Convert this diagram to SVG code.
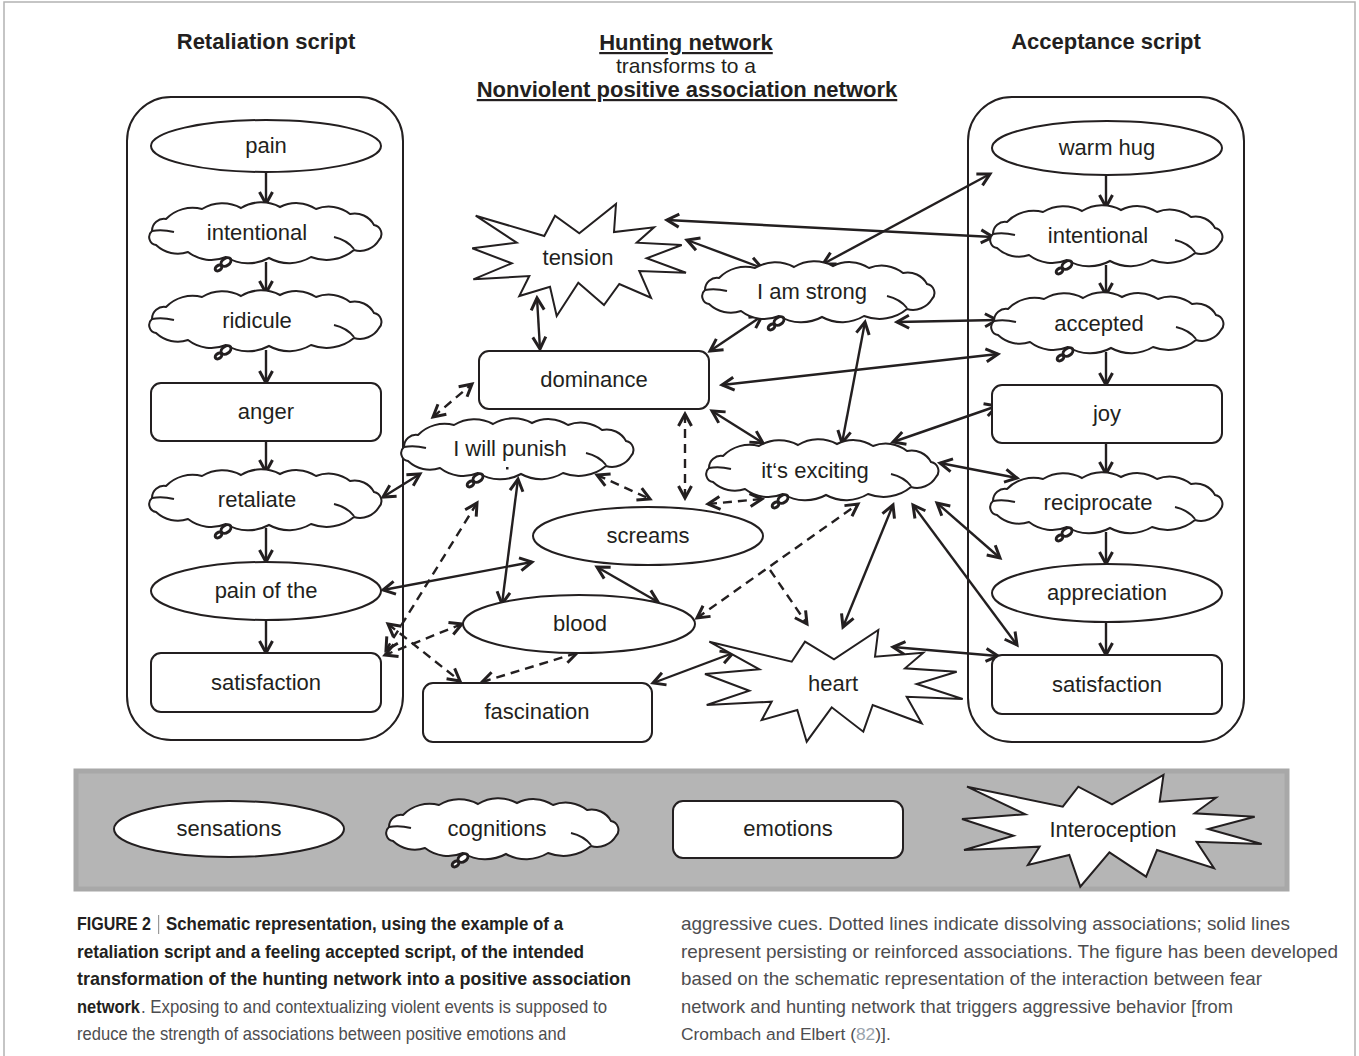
<svg xmlns="http://www.w3.org/2000/svg" width="1359" height="1056" viewBox="0 0 1359 1056">
<style>
.sh{fill:#fff;stroke:#231f20;stroke-width:2}
.cont{fill:none;stroke:#231f20;stroke-width:2}
.lb{font-family:"Liberation Sans",Arial,sans-serif;font-size:22px;fill:#231f20;text-anchor:middle}
.tt{font-family:"Liberation Sans",Arial,sans-serif;font-size:22px;font-weight:bold;fill:#231f20;text-anchor:middle}
.cn{fill:none;stroke:#231f20;stroke-width:2.4;marker-end:url(#ah)}
.db{marker-start:url(#ah)}
.ds{stroke-dasharray:9 6}
.cap{font-family:"Liberation Sans",Arial,sans-serif;font-size:18.5px;fill:#4d4d4f}
.b{font-weight:bold;fill:#231f20}
.bub{fill:#fff;stroke:#231f20;stroke-width:3}
</style>
<defs>
<marker id="ah" viewBox="-16 -9 19 18" refX="0" refY="0" markerWidth="19" markerHeight="18" markerUnits="userSpaceOnUse" orient="auto-start-reverse">
<path d="M-12,-6.5 L0,0 L-12,6.5" fill="none" stroke="#231f20" stroke-width="3"/>
</marker>
<g id="cloud">
<path class="sh" d="M-100,-14 A37,37 0 0 1 -64,-24 A39,39 0 0 1 -25,-25 A39,39 0 0 1 14,-26 A36,36 0 0 1 50,-24 A34,34 0 0 1 84,-19 A22,22 0 0 1 108,-8 A9,9 0 0 1 113,7 A22,22 0 0 1 88,17 A43,43 0 0 1 45,24 A42,42 0 0 1 3,25 A43,43 0 0 1 -40,24 A38,38 0 0 1 -78,19 A32,32 0 0 1 -110,12 A8,8 0 0 1 -114,-2 A12,12 0 0 1 -100,-14 Z"/>
<path d="M-114,-2 Q-104,-4 -92,-1 M88,16 Q81,7 68,4" fill="none" stroke="#231f20" stroke-width="2"/>
<ellipse class="bub" cx="-40" cy="29" rx="5.5" ry="3.6" transform="rotate(-35 -40 29)"/>
<ellipse class="bub" cx="-47.5" cy="35" rx="3.6" ry="2.5" transform="rotate(-35 -47.5 35)"/>
</g>
</defs>
<rect width="1359" height="1056" fill="#fff"/>
<path d="M4,1056 V2 H1355 V1056" fill="none" stroke="#b3b3b3" stroke-width="1.5"/>

<g id="titles">
<text class="tt" x="266" y="49">Retaliation script</text>
<text class="tt" x="1106" y="49">Acceptance script</text>
<text class="tt" x="686" y="50" text-decoration="underline">Hunting network</text>
<text class="lb" x="686" y="73" style="font-size:21px">transforms to a</text>
<text class="tt" x="687" y="97" text-decoration="underline">Nonviolent positive association network</text>
</g>

<g id="containers">
<rect class="cont" x="127" y="97" width="276" height="643" rx="44"/>
<rect class="cont" x="968" y="97" width="276" height="645" rx="44"/>
</g>

<g id="legend-band"><rect x="76" y="771" width="1211" height="118" fill="#b5b5b5" stroke="#a8a8a8" stroke-width="5"/></g>

<g id="connectors">
<path class="cn" d="M266,172 V204"/>
<path class="cn" d="M266,262 V293"/>
<path class="cn" d="M266,350 V383"/>
<path class="cn" d="M266,441 V472"/>
<path class="cn" d="M266,528 V562"/>
<path class="cn" d="M266,620 V653"/>
<path class="cn" d="M1106,175 V207"/>
<path class="cn" d="M1106,265 V295"/>
<path class="cn" d="M1106,352 V385"/>
<path class="cn" d="M1106,443 V474"/>
<path class="cn" d="M1106,532 V564"/>
<path class="cn" d="M1106,622 V655"/>
<path class="cn db" d="M667,220 L993,237"/>
<path class="cn db" d="M687,240 L762,268"/>
<path class="cn db" d="M823,264 L990,174"/>
<path class="cn db" d="M537,298 L540,349"/>
<path class="cn db" d="M710,351 L762,316"/>
<path class="cn db" d="M897,322 L997,320"/>
<path class="cn db" d="M722,385 L998,354"/>
<path class="cn db" d="M865,322 L842,443"/>
<path class="cn db" d="M712,411 L763,443"/>
<path class="cn db" d="M893,442 L997,406"/>
<path class="cn db" d="M940,463 L1017,478"/>
<path class="cn db" d="M937,503 L1000,558"/>
<path class="cn db" d="M913,505 L1017,645"/>
<path class="cn db" d="M893,505 L843,627"/>
<path class="cn db" d="M893,647 L998,656"/>
<path class="cn db" d="M653,683 L733,653"/>
<path class="cn db" d="M597,567 L658,602"/>
<path class="cn db" d="M518,479 L502,604"/>
<path class="cn db" d="M383,590 L532,562"/>
<path class="cn db" d="M383,497 L420,474"/>
<path class="cn db ds" d="M433,417 L472,384"/>
<path class="cn db ds" d="M597,475 L650,499"/>
<path class="cn db ds" d="M685,414 L685,498"/>
<path class="cn db ds" d="M708,504 L762,499"/>
<path class="cn db ds" d="M477,503 L386,650"/>
<path class="cn db ds" d="M462,624 L385,655"/>
<path class="cn db ds" d="M388,624 L460,681"/>
<path class="cn db ds" d="M482,682 L577,653"/>
<path class="cn db ds" d="M697,618 L858,504"/>
<path class="cn ds" d="M770,570 L807,624"/>
</g>

<g id="n-pain"><ellipse class="sh" cx="266" cy="146" rx="115" ry="26"/><text class="lb" x="266" y="153">pain</text></g>
<g id="n-intentional-l"><use href="#cloud" x="266" y="233"/><text class="lb" x="257" y="240">intentional</text></g>
<g id="n-ridicule"><use href="#cloud" x="266" y="321"/><text class="lb" x="257" y="328">ridicule</text></g>
<g id="n-anger"><rect class="sh" x="151" y="383" width="230" height="58" rx="10"/><text class="lb" x="266" y="419">anger</text></g>
<g id="n-retaliate"><use href="#cloud" x="266" y="500"/><text class="lb" x="257" y="507">retaliate</text></g>
<g id="n-painofthe"><ellipse class="sh" cx="266" cy="591" rx="115" ry="29"/><text class="lb" x="266" y="598">pain of the</text></g>
<g id="n-satisfaction-l"><rect class="sh" x="151" y="653" width="230" height="59" rx="10"/><text class="lb" x="266" y="690">satisfaction</text></g>

<g id="n-warmhug"><ellipse class="sh" cx="1107" cy="148" rx="115" ry="27"/><text class="lb" x="1107" y="155">warm hug</text></g>
<g id="n-intentional-r"><use href="#cloud" x="1107" y="236"/><text class="lb" x="1098" y="243">intentional</text></g>
<g id="n-accepted"><use href="#cloud" x="1108" y="323"/><text class="lb" x="1099" y="331">accepted</text></g>
<g id="n-joy"><rect class="sh" x="992" y="385" width="230" height="58" rx="10"/><text class="lb" x="1107" y="421">joy</text></g>
<g id="n-reciprocate"><use href="#cloud" x="1107" y="503"/><text class="lb" x="1098" y="510">reciprocate</text></g>
<g id="n-appreciation"><ellipse class="sh" cx="1107" cy="593" rx="115" ry="29"/><text class="lb" x="1107" y="600">appreciation</text></g>
<g id="n-satisfaction-r"><rect class="sh" x="992" y="655" width="230" height="59" rx="10"/><text class="lb" x="1107" y="692">satisfaction</text></g>

<g id="n-tension"><polygon class="sh" points="475.7,215.7 544.3,236 555,215.7 579.3,233.3 616,204 614,232 654,227.3 636.7,242.7 681.7,245 646.7,258.3 686,272.7 639.3,271 651,297.7 619.3,284 604,305 578.3,282.7 556.7,316 550,286.7 519.3,296 529.3,276 473.3,279.3 511.7,263.3 472.3,248.3 516.7,242.7"/><text class="lb" x="578" y="265">tension</text></g>
<g id="n-iamstrong"><use href="#cloud" x="819" y="292"/><text class="lb" x="812" y="299">I am strong</text></g>
<g id="n-dominance"><rect class="sh" x="479" y="351" width="230" height="58" rx="10"/><text class="lb" x="594" y="387">dominance</text></g>
<g id="n-iwillpunish"><use href="#cloud" x="518" y="449"/><text class="lb" x="510" y="456">I will punish</text><rect x="506" y="467" width="2.5" height="2.5" fill="#231f20"/></g>
<g id="n-itsexciting"><use href="#cloud" x="823" y="470"/><text class="lb" x="815" y="478">it‘s exciting</text></g>
<g id="n-screams"><ellipse class="sh" cx="648" cy="536" rx="115" ry="29"/><text class="lb" x="648" y="543">screams</text></g>
<g id="n-blood"><ellipse class="sh" cx="579" cy="624" rx="116" ry="29"/><text class="lb" x="580" y="631">blood</text></g>
<g id="n-fascination"><rect class="sh" x="423" y="683" width="229" height="59" rx="10"/><text class="lb" x="537" y="719">fascination</text></g>
<g id="n-heart"><polygon class="sh" points="709.3,641.7 791.7,661.7 805,641.7 834,659.3 878.3,630 875,656.7 923.3,652.7 905,668.3 956.7,671.7 916.7,684 962.7,699 906.7,696.7 921.7,723.3 872.7,705 863.3,731.7 831.7,707.3 806.7,741.7 797.3,710 761.7,720 771.7,701.7 706.7,705 749.3,690.7 705,674 759.3,669.3"/><text class="lb" x="833" y="691">heart</text></g>

<g id="legend-sensations"><ellipse class="sh" cx="229" cy="829" rx="115" ry="28"/><text class="lb" x="229" y="836">sensations</text></g>
<g id="legend-cognitions"><use href="#cloud" x="503" y="829"/><text class="lb" x="497" y="836">cognitions</text></g>
<g id="legend-emotions"><rect class="sh" x="673" y="801" width="230" height="57" rx="10"/><text class="lb" x="788" y="836">emotions</text></g>
<g id="legend-interoception"><polygon class="sh" points="967,786.7 1062.8,806.7 1078.3,786.7 1112,804.3 1163.5,775 1159.7,801.7 1215.9,797.7 1194.6,813.3 1254.7,816.7 1208.2,829 1261.7,844 1196.6,841.7 1214,868.3 1157,850 1146.1,876.7 1109.4,852.3 1080.3,886.7 1069.3,855 1027.9,865 1039.6,846.7 964,850 1013.5,835.7 962,819 1025.2,814.3"/><text class="lb" x="1113" y="837">Interoception</text></g>

<g id="caption">
<text class="cap b" x="77" y="930" textLength="74" lengthAdjust="spacingAndGlyphs">FIGURE 2</text>
<rect x="158" y="915" width="1.2" height="19" fill="#999"/>
<text class="cap b" x="166" y="930" textLength="397" lengthAdjust="spacingAndGlyphs">Schematic representation, using the example of a</text>
<text class="cap b" x="77" y="957.5" textLength="507" lengthAdjust="spacingAndGlyphs">retaliation script and a feeling accepted script, of the intended</text>
<text class="cap b" x="77" y="985" textLength="554" lengthAdjust="spacingAndGlyphs">transformation of the hunting network into a positive association</text>
<text class="cap b" x="77" y="1012.5" textLength="63" lengthAdjust="spacingAndGlyphs">network</text>
<text class="cap" x="141" y="1012.5" textLength="466" lengthAdjust="spacingAndGlyphs">. Exposing to and contextualizing violent events is supposed to</text>
<text class="cap" x="77" y="1040" textLength="489" lengthAdjust="spacingAndGlyphs">reduce the strength of associations between positive emotions and</text>
<text class="cap" x="681" y="930" textLength="609" lengthAdjust="spacingAndGlyphs">aggressive cues. Dotted lines indicate dissolving associations; solid lines</text>
<text class="cap" x="681" y="957.5" textLength="657" lengthAdjust="spacingAndGlyphs">represent persisting or reinforced associations. The figure has been developed</text>
<text class="cap" x="681" y="985" textLength="581" lengthAdjust="spacingAndGlyphs">based on the schematic representation of the interaction between fear</text>
<text class="cap" x="681" y="1012.5" textLength="552" lengthAdjust="spacingAndGlyphs">network and hunting network that triggers aggressive behavior [from</text>
<text class="cap" x="681" y="1040" style="font-size:17.4px">Crombach and Elbert (<tspan fill="#9aa4ad">82</tspan>)].</text>
</g>
</svg>
